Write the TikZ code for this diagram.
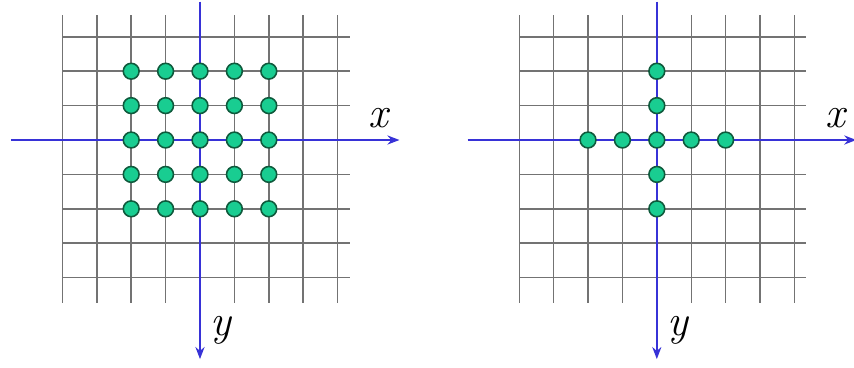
\documentclass[tikz,border=0pt]{standalone}
\usepackage{fontspec}
\usepackage{tikz}
\usetikzlibrary{arrows.meta}
\usepackage{xcolor}

\definecolor{axisblue}{RGB}{55,50,215}
\definecolor{dotgreen}{RGB}{25,205,145}
\definecolor{dotrim}{RGB}{15,90,60}
\definecolor{gridgray}{RGB}{115,115,115}

\begin{document}
\begin{tikzpicture}[
    gridline/.style={gridgray, line width=1.2pt},
    axis/.style={axisblue, line width=2.1pt, -{Stealth[length=10pt,width=7.5pt]}},
    dot/.style={circle, draw=dotrim, fill=dotgreen, line width=1.3pt, minimum size=0.46cm, inner sep=0pt},
    lbl/.style={font=\fontsize{36}{36}\selectfont\itshape, inner sep=0pt, anchor=base}
]
    \useasboundingbox (-5.814,-6.599) rectangle (19.012,4.070);

    % the two grids with their axes
    \foreach \p/\sx in {L/0, R/13.28} {
        \begin{scope}[xshift=\sx cm]
            \foreach \i in {-4,...,4}
                \draw[gridline] (\i,3.63) -- (\i,-4.74);
            \foreach \j in {-4,...,3}
                \draw[gridline] (-4,\j) -- (4.35,\j);

            \coordinate (\p-west) at (-5.5,0);
            \coordinate (\p-east) at (5.8,0);
            \coordinate (\p-north) at (0,4.02);
            \coordinate (\p-south) at (0,-6.37);
            \draw[axis] (\p-west) -- (\p-east);
            \draw[axis] (\p-north) -- (\p-south);

            \node[lbl] (\p-xlabel) at (5.18,0.37) {x};
            \node[lbl] (\p-ylabel) at (0.6,-5.67) {y};
        \end{scope}
    }

    % full square of samples
    \foreach \i in {-2,...,2}
        \foreach \j in {-2,...,2}
            \node[dot] (L-\i-\j) at (\i,\j) {};

    % cross of samples
    \begin{scope}[xshift=13.28cm]
        \node[dot] (R-c) at (0,0) {};
        \foreach \k in {-2,-1,1,2} {
            \node[dot] (R-h\k) at (\k,0) {};
            \node[dot] (R-v\k) at (0,\k) {};
        }
    \end{scope}
\end{tikzpicture}
\end{document}
